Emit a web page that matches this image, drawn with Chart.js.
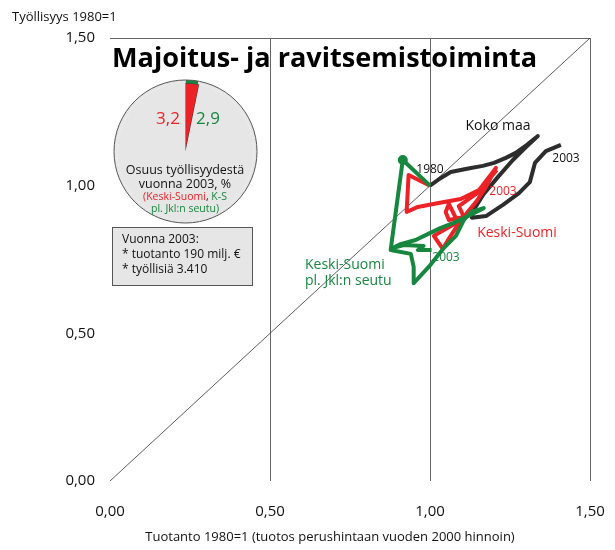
<!DOCTYPE html>
<html>
<head>
<meta charset="utf-8">
<script src="https://cdn.jsdelivr.net/npm/chart.js@4.4.1/dist/chart.umd.min.js"></script>
<style>
body { margin: 0; background: #fff; }
#wrap { position: relative; width: 615px; height: 550px; }
#pie { position: absolute; left: 113px; top: 79px; }
#main { position: absolute; left: 0; top: 0; }
</style>
</head>
<body>
<div id="wrap">
<canvas id="pie" width="145" height="145"></canvas>
<canvas id="main" width="615" height="550"></canvas>
</div>
<script>
// 1980 ... 2003, tuotanto (x) ja työllisyys (y), 1980=1
const kokoX = [1.00, 1.034, 1.065, 1.096, 1.128, 1.165, 1.200, 1.237, 1.268, 1.303, 1.337, 1.300,
               1.259, 1.212, 1.168, 1.134, 1.131, 1.175, 1.228, 1.278, 1.312, 1.328, 1.362, 1.409];
const kokoY = [1.00, 1.026, 1.046, 1.053, 1.060, 1.067, 1.077, 1.094, 1.111, 1.138, 1.168, 1.131,
               1.087, 1.029, 0.972, 0.914, 0.891, 0.897, 0.935, 0.975, 1.012, 1.077, 1.117, 1.138];

const ksX = [1.00, 0.933, 0.927, 0.962, 1.027, 1.096, 1.153, 1.206, 1.153, 1.090, 1.106, 1.059,
             1.049, 1.059, 1.087, 1.012, 1.040, 1.062, 1.087, 1.115, 1.146, 1.175, 1.193, 1.209];
const ksY = [1.00, 1.036, 0.911, 0.928, 0.941, 0.955, 0.985, 1.060, 0.979, 0.931, 0.894, 0.884,
             0.911, 0.938, 0.877, 0.830, 0.786, 0.826, 0.867, 0.907, 0.948, 0.996, 1.033, 1.053];

const ksplX = [1.00, 0.915, 0.896, 0.877, 0.940, 0.949, 0.949, 0.996, 1.043, 1.081, 1.106, 1.128,
               1.168, 1.118, 1.074, 1.034, 0.993, 0.955, 0.908, 0.883, 0.918, 0.980, 0.962, 1.005];
const ksplY = [1.00, 1.087, 0.935, 0.782, 0.769, 0.725, 0.670, 0.725, 0.789, 0.830, 0.884, 0.911,
               0.924, 0.897, 0.874, 0.857, 0.836, 0.816, 0.802, 0.789, 0.799, 0.796, 0.782, 0.782];

const diagX = [0, 1.5];
const diagY = [0, 1.5];

// osuus työllisyydestä 2003, %
const shareKS = 3.2;
const shareKSpl = 2.9;

const BLACK = '#2d2d2d', RED = '#ec2227', GREEN = '#17873f', GREY = '#e6e6e6';
const FONT = '"Open Sans", sans-serif';

function pts(xs, ys) {
    return xs.map((x, i) => ({ x: x, y: ys[i] }));
}
function fmt(v) {
    return v.toFixed(2).replace('.', ',');
}
function txt(ctx, s, x, y, size, color, align, bold) {
    ctx.font = (bold ? 'bold ' : '') + size + 'px ' + FONT;
    ctx.fillStyle = color;
    ctx.textAlign = align || 'left';
    ctx.textBaseline = 'middle';
    ctx.fillText(s, x, y);
}

const textPlugin = {
    id: 'texts',
    afterDraw(chart) {
        const ctx = chart.ctx;
        ctx.save();
        // title, fitted to width
        ctx.font = 'bold 28px ' + FONT;
        let w = ctx.measureText('Majoitus- ja ravitsemistoiminta').width;
        let size = 28 * 425 / w;
        txt(ctx, 'Majoitus- ja ravitsemistoiminta', 112, 59, size.toFixed(1), '#000', 'left', true);

        txt(ctx, 'Työllisyys 1980=1', 12, 17, 13, '#111');
        txt(ctx, 'Tuotanto 1980=1 (tuotos perushintaan vuoden 2000 hinnoin)', 330, 537, 13, '#111', 'center');

        // pie texts
        txt(ctx, '3,2', 168, 119, 17, RED, 'center');
        txt(ctx, '2,9', 208, 119, 17, GREEN, 'center');
        txt(ctx, 'Osuus työllisyydestä', 185, 170, 12.5, '#111', 'center');
        txt(ctx, 'vuonna 2003, %', 185, 184, 12.5, '#111', 'center');
        ctx.font = '10.5px ' + FONT;
        const p1 = '(Keski-Suomi', p2 = ', ', p3 = 'K-S';
        const tw = ctx.measureText(p1 + p2 + p3).width;
        let sx = 185 - tw / 2;
        txt(ctx, p1, sx, 197, 10.5, RED);
        sx += ctx.measureText(p1).width;
        txt(ctx, p2, sx, 197, 10.5, '#111');
        sx += ctx.measureText(p2).width;
        txt(ctx, p3, sx, 197, 10.5, GREEN);
        txt(ctx, 'pl. Jkl:n seutu)', 185, 209, 10.5, GREEN, 'center');

        // info box
        ctx.fillStyle = GREY;
        ctx.fillRect(112.5, 227.5, 140, 58);
        ctx.strokeStyle = '#555';
        ctx.lineWidth = 1;
        ctx.strokeRect(112.5, 227.5, 140, 58);
        txt(ctx, 'Vuonna 2003:', 122, 240, 12, '#111');
        txt(ctx, '* tuotanto 190 milj. €', 122, 255, 12, '#111');
        txt(ctx, '* työllisiä 3.410', 122, 270, 12, '#111');

        // series labels
        txt(ctx, 'Koko maa', 498, 126, 14, '#111', 'center');
        txt(ctx, '1980', 430, 170, 12, '#111', 'center');
        txt(ctx, '2003', 566, 159, 12, '#111', 'center');
        txt(ctx, '2003', 503, 192, 12, RED, 'center');
        txt(ctx, 'Keski-Suomi', 517, 233, 14, RED, 'center');
        txt(ctx, '2003', 446, 258, 12, GREEN, 'center');
        txt(ctx, 'Keski-Suomi', 305, 265, 14, GREEN);
        txt(ctx, 'pl. Jkl:n seutu', 305, 281, 14, GREEN);
        ctx.restore();
    }
};

new Chart(document.getElementById('main'), {
    type: 'scatter',
    data: {
        datasets: [
            {
                label: 'K-S pl. Jkl:n seutu',
                data: pts(ksplX, ksplY),
                showLine: true,
                borderColor: GREEN,
                backgroundColor: GREEN,
                borderWidth: 4,
                pointRadius: c => c.dataIndex === 1 ? 3 : 0,
                borderJoinStyle: 'round'
            },
            {
                label: 'Keski-Suomi',
                data: pts(ksX, ksY),
                showLine: true,
                borderColor: RED,
                borderWidth: 4,
                pointRadius: 0,
                borderJoinStyle: 'round'
            },
            {
                label: 'Koko maa',
                data: pts(kokoX, kokoY),
                showLine: true,
                borderColor: BLACK,
                borderWidth: 4,
                pointRadius: 0,
                borderJoinStyle: 'round'
            },
            {
                label: 'diag',
                data: pts(diagX, diagY),
                showLine: true,
                borderColor: '#333',
                borderWidth: 0.8,
                pointRadius: 0
            }
        ]
    },
    options: {
        responsive: false,
        animation: false,
        devicePixelRatio: 1,
        layout: { padding: { top: 38, right: 25, left: 0, bottom: 0 } },
        plugins: { legend: { display: false }, tooltip: { enabled: false } },
        scales: {
            x: {
                type: 'linear',
                min: 0, max: 1.5,
                afterFit: s => { s.height = 69; s.paddingLeft = 0; s.paddingRight = 0; },
                border: { display: false },
                grid: {
                    drawTicks: false,
                    lineWidth: 1,
                    color: c => (c.tick && c.tick.value > 0) ? '#666' : 'rgba(0,0,0,0)'
                },
                ticks: {
                    stepSize: 0.5,
                    padding: 22,
                    color: '#111',
                    font: { family: FONT, size: 15 },
                    callback: v => fmt(v)
                }
            },
            y: {
                type: 'linear',
                min: 0, max: 1.5,
                afterFit: s => { s.width = 110; s.paddingTop = 0; s.paddingBottom = 0; },
                border: { display: false },
                grid: {
                    drawTicks: false,
                    lineWidth: 1,
                    color: c => (c.tick && c.tick.value === 1.5) ? '#666' : 'rgba(0,0,0,0)'
                },
                ticks: {
                    stepSize: 0.5,
                    padding: 15,
                    color: '#111',
                    font: { family: FONT, size: 15 },
                    callback: v => fmt(v)
                }
            }
        }
    },
    plugins: [textPlugin]
});

const outline = {
    id: 'outline',
    afterDraw(chart) {
        const arc = chart.getDatasetMeta(0).data[0];
        const ctx = chart.ctx;
        ctx.save();
        ctx.strokeStyle = '#555';
        ctx.lineWidth = 1;
        ctx.beginPath();
        ctx.arc(arc.x, arc.y, arc.outerRadius, 0, Math.PI * 2);
        ctx.stroke();
        ctx.restore();
    }
};

new Chart(document.getElementById('pie'), {
    type: 'pie',
    data: {
        labels: ['osuus', 'muut'],
        datasets: [
            {
                data: [shareKSpl, 100 - shareKSpl],
                backgroundColor: [GREEN, GREY],
                borderWidth: 0,
                weight: 1
            },
            {
                data: [shareKS, 100 - shareKS],
                backgroundColor: [RED, GREY],
                borderColor: ['#333', GREY],
                borderWidth: [1, 0],
                weight: 22
            }
        ]
    },
    options: {
        responsive: false,
        animation: false,
        devicePixelRatio: 1,
        layout: { padding: 1 },
        plugins: { legend: { display: false }, tooltip: { enabled: false } }
    },
    plugins: [outline]
});
</script>
</body>
</html>
